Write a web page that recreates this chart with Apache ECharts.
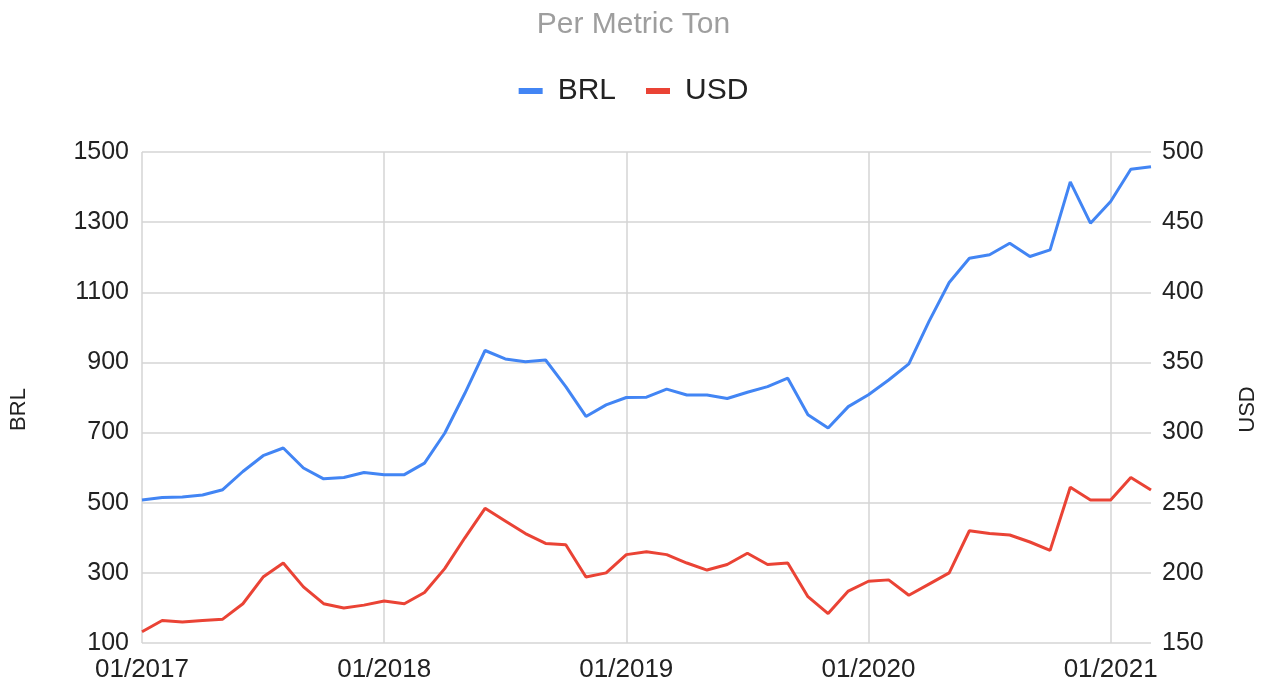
<!DOCTYPE html>
<html>
<head>
<meta charset="utf-8">
<title>Per Metric Ton</title>
<script src="https://cdn.jsdelivr.net/npm/echarts@6/dist/echarts.min.js"></script>
<style>
    html, body { margin: 0; padding: 0; background: #fff; }
    #main { width: 1267px; height: 686px; }
</style>
</head>
<body>
<div id="main"></div>
<script>
/* monthly data, 01/2017 - 03/2021 */
var months = [];
for (var y = 2017; y <= 2021; y++) {
    for (var m = 1; m <= 12; m++) {
        if (y == 2021 && m > 3) break;
        months.push((m < 10 ? '0' + m : '' + m) + '/' + y);
    }
}

var brl = [
    508, 515, 516, 522, 537, 589, 634, 656, 599, 568, 572, 586,   // 2017
    580, 580, 613, 698, 812, 934, 910, 902, 907, 831, 746, 779,   // 2018
    800, 801, 824, 807, 807, 797, 815, 831, 855, 751, 713, 774,   // 2019
    808, 850, 896, 1017, 1128, 1197, 1207, 1240, 1202, 1221, 1415, 1297, // 2020
    1359, 1451, 1458                                              // 2021
];
var usd = [
    158, 166, 165, 166, 167, 178, 197, 207, 190, 178, 175, 177,
    180, 178, 186, 203, 225, 246, 237, 228, 221, 220, 197, 200,
    213, 215, 213, 207, 202, 206, 214, 206, 207, 183, 171, 187,
    194, 195, 184, 192, 200, 230, 228, 227, 222, 216, 261, 252,
    252, 268, 259
];

var fontFam = 'Arial, "Liberation Sans", sans-serif';
var gridColor = '#d4d4d4';

function isJan(idx) {
    return idx % 12 === 0;
}

var myChart = echarts.init(document.getElementById('main'));
var option = {
    backgroundColor: '#fff',
    title: {
        text: 'Per Metric Ton',
        left: 'center',
        top: 5,
        textStyle: { color: '#9e9e9e', fontSize: 30, fontWeight: 'normal', fontFamily: fontFam }
    },
    legend: {
        top: 71,
        left: 'center',
        icon: 'rect',
        itemWidth: 24,
        itemHeight: 6,
        itemGap: 30,
        textStyle: { color: '#222', fontSize: 30, fontFamily: fontFam, padding: [0, 0, 0, 10] },
        data: ['BRL', 'USD']
    },
    grid: {
        left: 141,
        right: 111,
        top: 152,
        bottom: 43
    },
    xAxis: {
        type: 'category',
        boundaryGap: false,
        data: months,
        axisLine: { show: false },
        axisTick: { show: false },
        axisLabel: {
            interval: isJan,
            color: '#222',
            fontSize: 26,
            fontFamily: fontFam,
            margin: 14
        },
        splitLine: {
            show: true,
            interval: isJan,
            lineStyle: { color: gridColor, width: 1.5 }
        }
    },
    yAxis: [
        {
            type: 'value',
            name: 'BRL',
            nameLocation: 'middle',
            nameRotate: 90,
            nameGap: 112,
            nameTextStyle: { color: '#222', fontSize: 22, fontFamily: fontFam, padding: [0, 24, 0, 0] },
            min: 100,
            max: 1500,
            interval: 200,
            axisLine: { show: false },
            axisTick: { show: false },
            axisLabel: {
                color: '#222', fontSize: 25, fontFamily: fontFam, margin: 13,
                formatter: function (v) { return '' + v; }
            },
            splitLine: { lineStyle: { color: gridColor, width: 1.5 } }
        },
        {
            type: 'value',
            name: 'USD',
            nameLocation: 'middle',
            nameRotate: 90,
            nameGap: 86,
            nameTextStyle: { color: '#222', fontSize: 22, fontFamily: fontFam, padding: [0, 24, 0, 0] },
            min: 150,
            max: 500,
            interval: 50,
            axisLine: { show: false },
            axisTick: { show: false },
            axisLabel: { color: '#222', fontSize: 25, fontFamily: fontFam, margin: 11 },
            splitLine: { show: false }
        }
    ],
    series: [
        {
            name: 'BRL',
            type: 'line',
            yAxisIndex: 0,
            data: brl,
            symbol: 'none',
            color: '#4285f4',
            lineStyle: { width: 3 }
        },
        {
            name: 'USD',
            type: 'line',
            yAxisIndex: 1,
            data: usd,
            symbol: 'none',
            color: '#ea4335',
            lineStyle: { width: 3 }
        }
    ]
};
myChart.setOption(option);
</script>
</body>
</html>
